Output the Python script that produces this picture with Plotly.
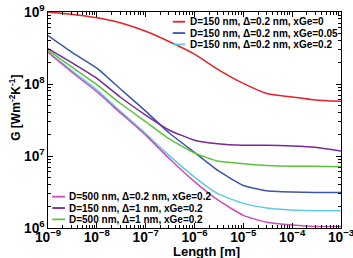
import plotly.graph_objects as go

length_m = [1e-9, 3e-9, 1e-8, 3e-8, 1e-7, 3e-7, 1e-6, 3e-6, 1e-5, 3e-5, 1e-4, 3e-4, 1e-3]

g_d150_a02_x0 = [1.0e9, 9.3e8, 8.3e8, 7.1e8, 5.4e8, 3.9e8, 2.6e8, 1.6e8, 1.02e8, 7.4e7, 6.6e7, 6.0e7, 5.75e7]
g_d150_a02_x005 = [4.7e8, 2.8e8, 1.66e8, 8.6e7, 4.2e7, 2.1e7, 1.12e7, 6.3e6, 3.9e6, 3.3e6, 3.16e6, 3.1e6, 3.1e6]
g_d150_a02_x02 = [2.8e8, 1.55e8, 8.3e7, 4.2e7, 2.05e7, 1.02e7, 5.1e6, 3.0e6, 2.2e6, 1.9e6, 1.78e6, 1.74e6, 1.74e6]
g_d500_a02_x02 = [2.75e8, 1.48e8, 7.8e7, 4.0e7, 1.95e7, 9.3e6, 4.4e6, 2.45e6, 1.5e6, 1.2e6, 1.1e6, 1.05e6, 1.05e6]
g_d150_a1_x02 = [3.1e8, 2.0e8, 1.2e8, 6.6e7, 3.7e7, 2.3e7, 1.66e7, 1.48e7, 1.41e7, 1.41e7, 1.38e7, 1.32e7, 1.17e7]
g_d500_a1_x02 = [2.95e8, 1.74e8, 9.8e7, 5.4e7, 3.0e7, 1.74e7, 1.1e7, 8.5e6, 7.8e6, 7.4e6, 7.2e6, 7.2e6, 7.1e6]

series_names = [
    "D=150 nm, \u0394=0.2 nm, xGe=0",
    "D=150 nm, \u0394=0.2 nm, xGe=0.05",
    "D=150 nm, \u0394=0.2 nm, xGe=0.2",
    "D=500 nm, \u0394=0.2 nm, xGe=0.2",
    "D=150 nm, \u0394=1 nm, xGe=0.2",
    "D=500 nm, \u0394=1 nm, xGe=0.2",
]
series_values = [g_d150_a02_x0, g_d150_a02_x005, g_d150_a02_x02,
                 g_d500_a02_x02, g_d150_a1_x02, g_d500_a1_x02]
series_colors = ["#e8202a", "#3a56a8", "#5ccbe0", "#cc4fb4", "#7a2896", "#5cc43c"]

x_title = "<b>Length [m]</b>"
y_title = "<b>G [Wm<sup>-2</sup>K<sup>-1</sup>]</b>"

font = "Liberation Sans, Arial, sans-serif"

fig = go.Figure()
for name, vals, color in zip(series_names, series_values, series_colors):
    fig.add_trace(go.Scatter(x=length_m, y=vals, mode="lines", name=name, showlegend=False,
                             line=dict(color=color, width=1.5, shape="spline", smoothing=0.5)))

# legend drawn as text + line samples (two groups)
annotations = []
shapes = []
groups = [
    (range(0, 3), 0.426, 0.468, 0.478, 0.955),   # top-right group
    (range(3, 6), 0.0147, 0.058, 0.066, 0.145),  # bottom-left group
]
row_step = 0.0525
for idx, x0, x1, xt, ytop in groups:
    for k, i in enumerate(idx):
        yy = ytop - k * row_step
        shapes.append(dict(type="line", xref="paper", yref="paper", x0=x0, x1=x1, y0=yy, y1=yy,
                           line=dict(color=series_colors[i], width=1.8)))
        annotations.append(dict(xref="paper", yref="paper", x=xt, y=yy, xanchor="left", yanchor="middle",
                                text="<b>" + series_names[i] + "</b>", showarrow=False,
                                font=dict(size=10, family=font, color="black")))

# axis titles
annotations.append(dict(xref="paper", yref="paper", x=0.541, y=-0.109, xanchor="center", yanchor="middle",
                        text=x_title, showarrow=False, font=dict(size=13, family=font, color="black")))
annotations.append(dict(xref="paper", yref="paper", x=-0.113, y=0.556, xanchor="center", yanchor="middle",
                        text=y_title, textangle=-90, showarrow=False,
                        font=dict(size=12, family=font, color="black")))

axis_common = dict(type="log", dtick=1, exponentformat="power", showgrid=False,
                   ticks="inside", ticklen=5, tickwidth=1, tickcolor="black",
                   showline=True, linecolor="black", linewidth=1.2, mirror="ticks",
                   minor=dict(ticks="inside", ticklen=2.5, tickcolor="black"),
                   tickfont=dict(family=font, size=11, color="black", weight="bold"),
                   ticklabeloverflow="allow",
                   zeroline=False, automargin=False)

fig.update_layout(
    width=353, height=258,
    margin=dict(l=48, r=12, t=12, b=30),
    plot_bgcolor="white", paper_bgcolor="white",
    font=dict(family=font, color="black"),
    xaxis=dict(axis_common, range=[-9, -2.9999], ticklabelstandoff=-3),
    yaxis=dict(axis_common, range=[6, 9.0001], ticklabelstandoff=0),
    annotations=annotations,
    shapes=shapes,
)

# remove the default page margin so the figure sits at the window's top-left corner
fig.write_html("out.html", config={"displayModeBar": False},
               post_script="document.body.style.margin='0';")
